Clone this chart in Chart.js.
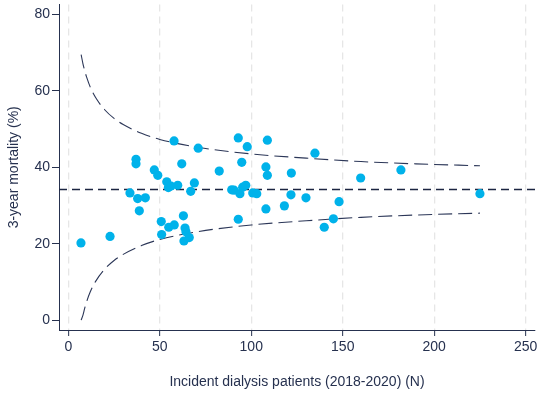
<!DOCTYPE html>
<html>
<head>
<meta charset="utf-8">
<script src="https://cdn.jsdelivr.net/npm/chart.js@4"></script>
<style>
  body { margin: 0; background: #fff; }
  #wrap { width: 540px; height: 394px; }
</style>
</head>
<body>
<div id="wrap"><canvas id="myChart" width="540" height="394"></canvas></div>
<script>
// centres: incident patients (N) and 3-year mortality (%)
const patientsN = [6.9, 22.8, 33.7, 37, 37, 37.9, 38.8, 42.1, 47, 48.9, 50.8, 51, 53.8, 54.7, 54.9, 56.1,
  57.8, 57.9, 59.8, 62, 62.9, 63.8, 64.3, 63.2, 66.1, 66.9, 68.9, 71, 82.5, 89.3, 90.6, 92.9, 92.9, 93.8,
  94.8, 95.3, 97, 97.8, 100.8, 103, 108, 108.8, 108.8, 108, 118.1, 121.9, 121.7, 129.9, 134.8, 139.9,
  144.9, 148, 159.8, 181.8, 225];
const mortality = [20.2, 21.9, 33.3, 42.1, 40.9, 31.8, 28.6, 32.0, 39.3, 37.9, 25.8, 22.4, 36.2, 34.7, 24.3, 35.1,
  46.9, 24.9, 35.3, 40.9, 27.3, 24.1, 23.1, 20.7, 21.6, 33.7, 35.9, 45.0, 39.0, 34.1, 34.0, 47.7, 26.4, 33.1,
  41.3, 34.8, 35.3, 45.4, 33.3, 33.1, 40.1, 37.9, 47.1, 29.1, 29.9, 38.5, 32.8, 32.0, 43.7, 24.3,
  26.5, 31.0, 37.2, 39.3, 33.1];

const meanRate = 34.2;
const limitN = [7, 8, 9, 10, 12, 15, 20, 25, 30, 40, 50, 70, 100, 130, 160, 190, 225];
const upperLimit = [69.5, 67.1, 65.2, 63.6, 61.0, 58.2, 55.0, 52.8, 51.2, 48.9, 47.3, 45.3, 43.5, 42.4, 41.5, 40.9, 40.4];
const lowerLimit = [0.0, 1.3, 3.2, 4.8, 7.4, 10.2, 13.4, 15.6, 17.2, 19.5, 21.1, 23.1, 24.9, 26.0, 26.9, 27.5, 28.0];

const xTicks = [0, 50, 100, 150, 200, 250];
const yTicks = [0, 20, 40, 60, 80];
const xMin = -5.1, xMax = 255.1;
const yMin = -2.6, yMax = 82.6;

const navy = '#26314f';
const pairs = (xs, ys) => xs.map((x, i) => ({x: x, y: ys[i]}));

new Chart('myChart', {
  type: 'scatter',
  data: {
    datasets: [
      {
        data: pairs(patientsN, mortality),
        backgroundColor: '#00b2ea',
        borderWidth: 0,
        pointRadius: 4.6,
        pointHoverRadius: 4.6
      },
      {
        type: 'line',
        data: [{x: xMin, y: meanRate}, {x: xMax, y: meanRate}],
        borderColor: '#1c2542',
        borderWidth: 1.4,
        borderDash: [8, 5],
        pointRadius: 0
      },
      {
        type: 'line',
        data: pairs(limitN, upperLimit),
        borderColor: '#2c3758',
        borderWidth: 1.1,
        borderDash: [14, 6],
        pointRadius: 0,
        cubicInterpolationMode: 'monotone'
      },
      {
        type: 'line',
        data: pairs(limitN, lowerLimit),
        borderColor: '#2c3758',
        borderWidth: 1.1,
        borderDash: [14, 6],
        pointRadius: 0,
        cubicInterpolationMode: 'monotone'
      }
    ]
  },
  options: {
    responsive: false,
    animation: false,
    events: [],
    layout: { padding: { left: 0, right: 5, top: 0, bottom: 0 } },
    plugins: { legend: { display: false }, tooltip: { enabled: false } },
    scales: {
      x: {
        type: 'linear',
        min: xMin,
        max: xMax,
        afterBuildTicks: s => { s.ticks = xTicks.map(v => ({value: v})); },
        afterFit: s => { s.height = 64; s.paddingLeft = 0; s.paddingRight = 0; },
        grid: {
          color: '#e6e6e6',
          lineWidth: 1.3,
          tickColor: navy,
          tickLength: 6,
          tickWidth: 1,
          tickBorderDash: []
        },
        border: { color: navy, width: 1, dash: [7, 5] },
        ticks: {
          color: navy,
          padding: 3,
          font: { family: 'Liberation Sans, Arial', size: 14 }
        },
        title: {
          display: true,
          text: 'Incident dialysis patients (2018-2020) (N)',
          color: navy,
          padding: { top: 0, bottom: 3 },
          font: { family: 'Liberation Sans, Arial', size: 14 }
        }
      },
      y: {
        type: 'linear',
        min: yMin,
        max: yMax,
        afterBuildTicks: s => { s.ticks = yTicks.map(v => ({value: v})); },
        afterFit: s => { s.width = 59; s.paddingTop = 0; s.paddingBottom = 0; },
        grid: {
          drawOnChartArea: false,
          tickColor: navy,
          tickLength: 7,
          tickWidth: 1
        },
        border: { color: navy, width: 1 },
        ticks: {
          color: navy,
          padding: 2,
          font: { family: 'Liberation Sans, Arial', size: 14 }
        },
        title: {
          display: true,
          text: '3-year mortality (%)',
          color: navy,
          padding: { top: 6, bottom: 0 },
          font: { family: 'Liberation Sans, Arial', size: 14 }
        }
      }
    }
  }
});
</script>
</body>
</html>
